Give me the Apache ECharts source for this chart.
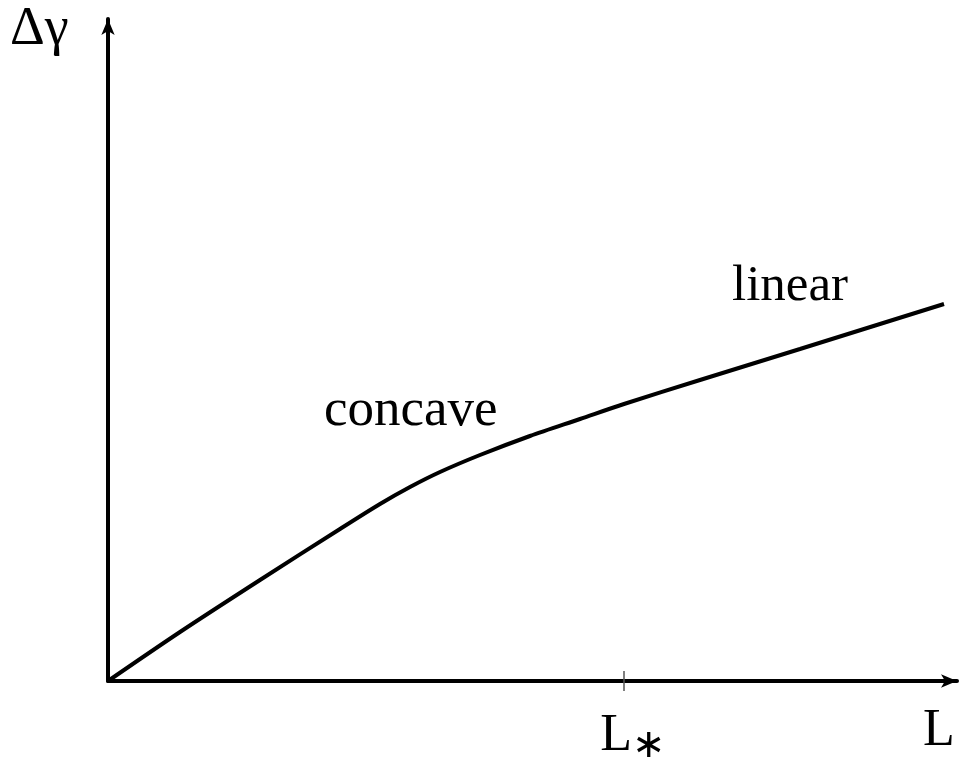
<!DOCTYPE html>
<html><head><meta charset="utf-8">
<script src="https://cdn.jsdelivr.net/npm/echarts@6/dist/echarts.min.js"></script>
<style>html,body{margin:0;padding:0;background:#fff}#c{width:959px;height:759px}</style>
</head><body><div id="c"></div>
<script>
// curve samples (L, Δγ) in arbitrary units
const curveX = [0, 72, 152, 232, 272, 302, 332, 372, 422, 472, 516, 592, 692, 836];
const curveY = [0, 49, 101, 152, 177, 194, 209, 226, 245, 262, 277, 301, 332, 377];
const tickValues = [516];
const tickLabelValues = [525];
const tickLabels = ['L*'];
const endLabelValue = [831];
const endLabel = ['L'];
const yName = 'Δγ';
const notes = ['concave', 'linear'];

const chart = echarts.init(document.getElementById('c'));
const serif = 'Liberation Serif';
const data = curveX.map((x, i) => [x, curveY[i]]);
const labelVals = tickLabelValues.concat(endLabelValue);
const labelMap = {};
tickLabelValues.forEach((v, i) => labelMap[v] = tickLabels[i]);
endLabelValue.forEach((v, i) => labelMap[v] = endLabel[i]);

chart.setOption({
  animation: false,
  backgroundColor: '#fff',
  grid: { left: 108, right: 2, top: 19, bottom: 78, outerBoundsMode: 'none', containLabel: false },
  xAxis: [{
    type: 'value', min: 0, max: 849,
    axisLine: { show: true, lineStyle: { color: '#000', width: 4 }, symbol: ['none', 'arrow'], symbolSize: [10, 16] },
    axisTick: { show: true, customValues: tickValues, length: 10, lineStyle: { color: '#555', width: 1.5 } },
    splitLine: { show: false },
    axisLabel: {
      customValues: labelVals, margin: 24, hideOverlap: false,
      formatter: v => {
        const s = labelMap[v] || '';
        return s.endsWith('*') ? s.slice(0, -1) + '{sub|∗}' : s;
      },
      color: '#000', fontFamily: serif, fontSize: 52,
      rich: { sub: { fontFamily: 'DejaVu Sans', fontSize: 40, padding: [22, 0, 0, 0], color: '#000' } }
    }
  }, {
    type: 'value', min: 0, max: 849, position: 'bottom',
    axisLine: { show: false },
    axisTick: { show: true, inside: true, customValues: tickValues, length: 10, lineStyle: { color: '#555', width: 1.5 } },
    axisLabel: { show: false }, splitLine: { show: false }
  }],
  yAxis: {
    type: 'value', min: 0, max: 662,
    axisLine: { show: true, lineStyle: { color: '#000', width: 4 }, symbol: ['none', 'arrow'], symbolSize: [10, 16] },
    axisTick: { show: false }, axisLabel: { show: false }, splitLine: { show: false }
  },
  graphic: [
    { type: 'text', left: 10, top: 3, style: { text: yName, font: '54px "Liberation Serif"', fill: '#000' } },
    { type: 'text', left: 324, top: 385, style: { text: notes[0], font: '53px "Liberation Serif"', fill: '#000' } },
    { type: 'text', left: 732, top: 261, style: { text: notes[1], font: '51px "Liberation Serif"', fill: '#000' } }
  ],
  series: [{
    type: 'line', data: data, smooth: 0.3, symbol: 'none',
    lineStyle: { color: '#000', width: 4 }
  }]
});
</script></body></html>
